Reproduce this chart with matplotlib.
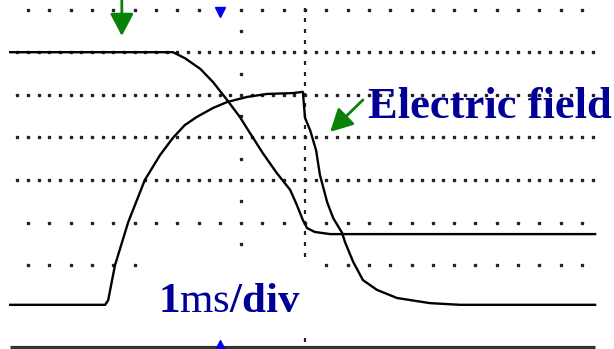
import matplotlib.pyplot as plt
from matplotlib.patches import Rectangle
import numpy as np

# Scope traces, time in ms (1 ms/div, 0 = screen centre), amplitude in divisions
t_a = [-6.92, -3.10, -2.82, -2.46, -2.16, -1.83, -1.53, -1.29, -0.99, -0.66,
       -0.35, -0.19, -0.05, 0.05, 0.23, 0.59, 6.81]
v_a = [3.00, 3.00, 2.86, 2.61, 2.30, 1.88, 1.48, 1.10, 0.63, 0.16,
       -0.23, -0.59, -0.94, -1.13, -1.22, -1.27, -1.27]

t_field = [-6.92, -4.69, -4.62, -4.46, -4.15, -3.76, -3.40, -3.10, -2.82, -2.54,
           -2.16, -1.83, -1.36, -0.89, -0.28, -0.05, 0.00, 0.12, 0.26, 0.35,
           0.52, 0.66, 0.87, 0.94, 1.13, 1.36, 1.69, 2.16, 2.93, 3.64, 6.81]
v_field = [-2.93, -2.93, -2.82, -2.00, -0.99, 0.00, 0.59, 0.99, 1.29, 1.48,
           1.69, 1.83, 1.95, 2.02, 2.04, 2.07, 1.46, 1.17, 0.70, 0.12,
           -0.52, -0.89, -1.24, -1.46, -1.92, -2.35, -2.58, -2.77, -2.89, -2.93, -2.93]

trigger_t = -2.0
screen_t = [-6.92, 6.81]
floor_v = -3.92

dense_rows = [3, 2, 1, 0]
sparse_rows = [4, -1, -2]

navy = "#000096"
green = "#0a820a"
PX = 42.6  # pixels per division in the source image

plt.rcParams["mathtext.fontset"] = "custom"
plt.rcParams["mathtext.rm"] = "Liberation Serif"
plt.rcParams["mathtext.bf"] = "Liberation Serif:bold"

fig = plt.figure(figsize=(6.14, 3.49), dpi=100)
ax = fig.add_axes([0, 0, 1, 1])
ax.set_xlim(-305 / PX, 309 / PX)
ax.set_ylim(-169 / PX, 180 / PX)
ax.axis("off")

# graticule dots
dot = dict(ls="none", marker="s", ms=1.5, color="#222222", zorder=1)
for r in dense_rows:
    xs = np.arange(-6.75, 6.76, 0.25)
    ax.plot(xs, np.full_like(xs, r), **dot)
for r in sparse_rows:
    xs = np.arange(-6.5, 6.6, 0.5)
    ax.plot(xs, np.full_like(xs, r), **dot)
ys = np.arange(-3.75, 4.01, 0.25)
ax.plot(np.zeros_like(ys), ys, ls="none", marker="|", ms=3.5, mew=1.6,
        color="#222222", zorder=1)
ys = np.arange(-3.5, 3.6, 1.0)
ax.plot(np.full_like(ys, -1.5), ys, **dot)

# bottom bar and trigger markers
ax.plot(screen_t, [floor_v, floor_v], color="#333333", lw=2.3, solid_capstyle="butt")
ax.plot([trigger_t], [3.94], marker="v", ms=7, color="#0000ee", ls="none")
ax.plot([trigger_t], [-3.86], marker="^", ms=6, color="#0000ee", ls="none")

# traces
ax.plot(t_a, v_a, color="black", lw=1.7, zorder=3)
ax.plot(t_field, v_field, color="black", lw=1.7, zorder=3)

# labels and arrows
arrow = dict(arrowstyle="-|>,head_length=0.8,head_width=0.42", color=green,
             lw=2, mutation_scale=17, shrinkA=0, shrinkB=0)
ax.annotate("", xy=(-4.30, 3.38), xytext=(-4.30, 4.3), arrowprops=arrow, zorder=5)
ax.annotate("", xy=(0.59, 1.13), xytext=(1.36, 1.88), arrowprops=arrow, zorder=5)

ax.text(1.48, 1.45, "Electric field", family="Liberation Serif", weight="bold",
        fontsize=32, color=navy, ha="left", va="baseline", zorder=6)
# white label panel behind "1ms/div" (hides the graticule there)
ax.add_patch(Rectangle((-3.75, -3.68), 3.88, 1.88, fc="white", ec="none", zorder=2))
ax.text(-3.45, -3.10, r"$\mathbf{1}\mathrm{ms}\mathbf{/div}$", fontsize=31,
        color=navy, ha="left", va="baseline", zorder=6)

plt.savefig("out.png", dpi=100)
plt.close()
